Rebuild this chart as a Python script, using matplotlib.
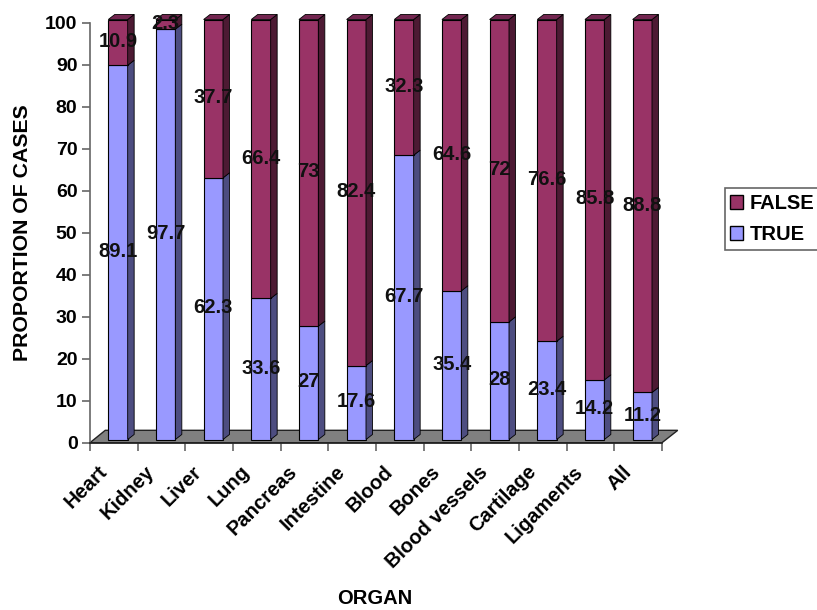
import numpy as np
import matplotlib
matplotlib.use('Agg')
import matplotlib.pyplot as plt
from matplotlib.patches import Polygon, Patch

organs = ['Heart', 'Kidney', 'Liver', 'Lung', 'Pancreas', 'Intestine', 'Blood',
          'Bones', 'Blood vessels', 'Cartilage', 'Ligaments', 'All']
true_vals = [89.1, 97.7, 62.3, 33.6, 27, 17.6, 67.7, 35.4, 28, 23.4, 14.2, 11.2]
false_vals = [10.9, 2.3, 37.7, 66.4, 73, 82.4, 32.3, 64.6, 72, 76.6, 85.8, 88.8]

plt.rcParams['font.family'] = ['Liberation Sans', 'DejaVu Sans']

W, H = 817, 610
fig = plt.figure(figsize=(W / 100, H / 100), dpi=100)
ax = fig.add_axes([90 / W, 1 - 442.7 / H, 572 / W, 420 / H])
ax.set_xlim(0, 12)
ax.set_ylim(0, 100)

maroon = '#993366'
maroon_side = '#4D1A33'
maroon_top = '#732650'
blue = '#9999FF'
blue_side = '#4D4D80'
grey = '#808080'

# fake 3d depth, in data units
width = 0.407
lift = 0.76
dx = 0.136
dy = 1.2

# floor
ax.add_patch(Polygon([(0, 0), (0.32, 2.95), (12.33, 2.95), (12, 0)], closed=True,
                     facecolor=grey, edgecolor='#222222', linewidth=1, clip_on=False, zorder=1))


def seg(i, bottom, height, front, side):
    left = i + 0.587 - width / 2
    right = left + width
    y0 = bottom + lift
    y1 = bottom + height + lift
    ax.bar(left, height, width, bottom=y0, align='edge', color=front, edgecolor='black',
           linewidth=0.8, clip_on=False, zorder=3)
    ax.add_patch(Polygon([(right, y0), (right + dx, y0 + dy), (right + dx, y1 + dy), (right, y1)],
                         closed=True, facecolor=side, edgecolor='black', linewidth=0.6,
                         clip_on=False, zorder=3))


for i in range(len(organs)):
    seg(i, 0, true_vals[i], blue, blue_side)
    seg(i, true_vals[i], false_vals[i], maroon, maroon_side)
    # top of the stack
    left = i + 0.587 - width / 2
    top = 100 + lift
    ax.add_patch(Polygon([(left, top), (left + dx, top + dy), (left + width + dx, top + dy), (left + width, top)],
                         closed=True, facecolor=maroon_top, edgecolor='black', linewidth=0.6,
                         clip_on=False, zorder=3))

for i in range(len(organs)):
    x = i + 0.587
    ax.text(x, true_vals[i] / 2 + lift + 0.2, str(true_vals[i]), ha='center', va='center',
            fontsize=14.5, fontweight='bold', color='#111111', zorder=5)
    ax.text(x, true_vals[i] + false_vals[i] / 2 + lift + 0.2, str(false_vals[i]), ha='center', va='center',
            fontsize=14.5, fontweight='bold', color='#111111', zorder=5)

for s in ['top', 'right']:
    ax.spines[s].set_visible(False)
ax.spines['left'].set_color('#666666')
ax.spines['left'].set_linewidth(1.2)
ax.spines['bottom'].set_color('#222222')
ax.spines['bottom'].set_linewidth(1.2)
ax.patch.set_alpha(0)

ax.set_yticks(np.arange(0, 101, 10))
ax.set_xticks(np.arange(0, 13))
ax.set_xticklabels([])
ax.tick_params(axis='y', length=6, width=1.2, color='#666666', pad=3, labelsize=14)
ax.tick_params(axis='x', length=6, width=1.2, color='#666666')
for t in ax.get_yticklabels():
    t.set_fontweight('bold')

for i, name in enumerate(organs):
    ax.annotate(name, (i + 0.5, 0), xytext=(-12, -14), textcoords='offset points', rotation=45,
                ha='right', va='top', rotation_mode='anchor', fontsize=14.5, fontweight='bold',
                annotation_clip=False)

fig.text(23 / W, 1 - 233 / H, 'PROPORTION OF CASES', rotation=90, ha='center', va='center',
         fontsize=15.3, fontweight='bold')
fig.text(375 / W, 1 - 598 / H, 'ORGAN', ha='center', va='center', fontsize=14.5, fontweight='bold')

handles = [Patch(facecolor=maroon, edgecolor='black', label='FALSE'),
           Patch(facecolor=blue, edgecolor='black', label='TRUE')]
leg = fig.legend(handles=handles, loc='center left', bbox_to_anchor=(724.5 / W, 1 - 219 / H),
                 fancybox=False, framealpha=1, edgecolor='#666666', borderaxespad=0,
                 handlelength=0.65, handleheight=0.65, handletextpad=0.3, borderpad=0.28,
                 labelspacing=0.6, prop={'size': 14.5, 'weight': 'bold'})
leg.get_frame().set_linewidth(1.2)

fig.savefig('out.png', dpi=100)
